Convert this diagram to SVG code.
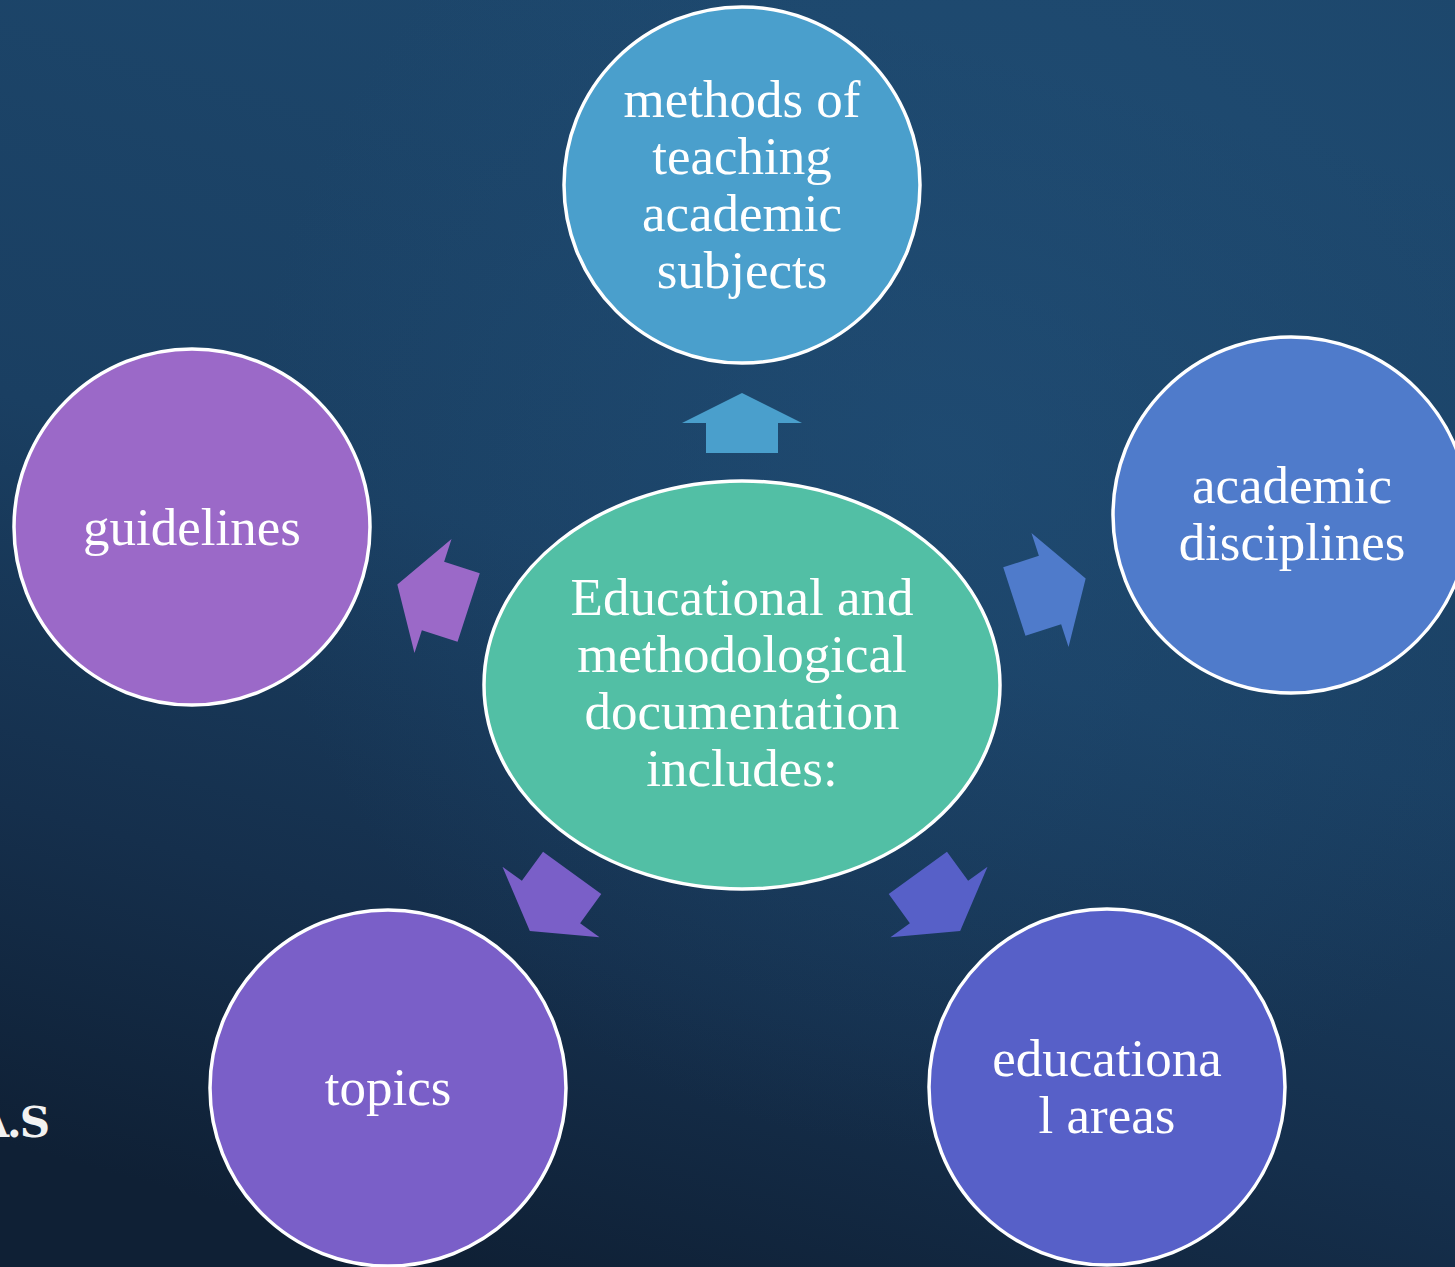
<svg xmlns="http://www.w3.org/2000/svg" width="1455" height="1267" viewBox="0 0 1455 1267">
  <defs>
    <linearGradient id="bg" x1="800" y1="0" x2="450" y2="1267" gradientUnits="userSpaceOnUse">
      <stop offset="0" stop-color="#1d476c"/>
      <stop offset="0.45" stop-color="#1a3f62"/>
      <stop offset="0.75" stop-color="#152f4c"/>
      <stop offset="1" stop-color="#0f2035"/>
    </linearGradient>
    <radialGradient id="glow" cx="950" cy="450" r="700" gradientUnits="userSpaceOnUse">
      <stop offset="0" stop-color="#22527c" stop-opacity="0.5"/>
      <stop offset="1" stop-color="#22527c" stop-opacity="0"/>
    </radialGradient>
    <path id="arrow" d="M0,-30 L60,0 L36,0 L36,30 L-36,30 L-36,0 L-60,0 Z"/>
  </defs>
  <style>
    .node { stroke: #ffffff; stroke-width: 3.5; }
    .lbl { font-family: "Liberation Serif", "Times New Roman", serif; font-size: 53px; fill: #ffffff; text-anchor: middle; }
  </style>
  <rect x="0" y="0" width="1455" height="1267" fill="url(#bg)"/>
  <rect x="0" y="0" width="1455" height="1267" fill="url(#glow)"/>
  <text x="48" y="1137" font-family="DejaVu Serif, serif" font-size="42" font-weight="bold" fill="#f2f2f2" text-anchor="end" letter-spacing="-2">A.S</text>

  <g id="connectors">
    <use href="#arrow" fill="#4a9fcc" transform="translate(742,423)"/>
    <use href="#arrow" fill="#4f7bcb" transform="translate(1050,590) rotate(72) scale(1,1.25)"/>
    <use href="#arrow" fill="#5760c8" transform="translate(939,902) rotate(144) scale(1,1.2)"/>
    <use href="#arrow" fill="#7a5fc8" transform="translate(551,902) rotate(216) scale(1,1.2)"/>
    <use href="#arrow" fill="#9b69c8" transform="translate(433,596) rotate(288) scale(1,1.25)"/>
  </g>

  <g id="node-center">
    <ellipse class="node" cx="742" cy="685" rx="258" ry="204" fill="#52bfa5"/>
    <text class="lbl"><tspan x="742" y="615">Educational and</tspan><tspan x="742" y="672">methodological</tspan><tspan x="742" y="729">documentation</tspan><tspan x="742" y="786">includes:</tspan></text>
  </g>
  <g id="node-methods">
    <circle class="node" cx="742" cy="185" r="178" fill="#4a9fcc"/>
    <text class="lbl"><tspan x="742" y="117">methods of</tspan><tspan x="742" y="174">teaching</tspan><tspan x="742" y="231">academic</tspan><tspan x="742" y="288">subjects</tspan></text>
  </g>
  <g id="node-disciplines">
    <circle class="node" cx="1291" cy="515" r="178" fill="#4f7bcb"/>
    <text class="lbl"><tspan x="1292" y="503">academic</tspan><tspan x="1292" y="560">disciplines</tspan></text>
  </g>
  <g id="node-areas">
    <circle class="node" cx="1107" cy="1087" r="178" fill="#5760c8"/>
    <text class="lbl"><tspan x="1107" y="1076">educationa</tspan><tspan x="1107" y="1133">l areas</tspan></text>
  </g>
  <g id="node-topics">
    <circle class="node" cx="388" cy="1088" r="178" fill="#7a5fc8"/>
    <text class="lbl" x="388" y="1105">topics</text>
  </g>
  <g id="node-guidelines">
    <circle class="node" cx="192" cy="527" r="178" fill="#9b69c8"/>
    <text class="lbl" x="192" y="545">guidelines</text>
  </g>
</svg>
